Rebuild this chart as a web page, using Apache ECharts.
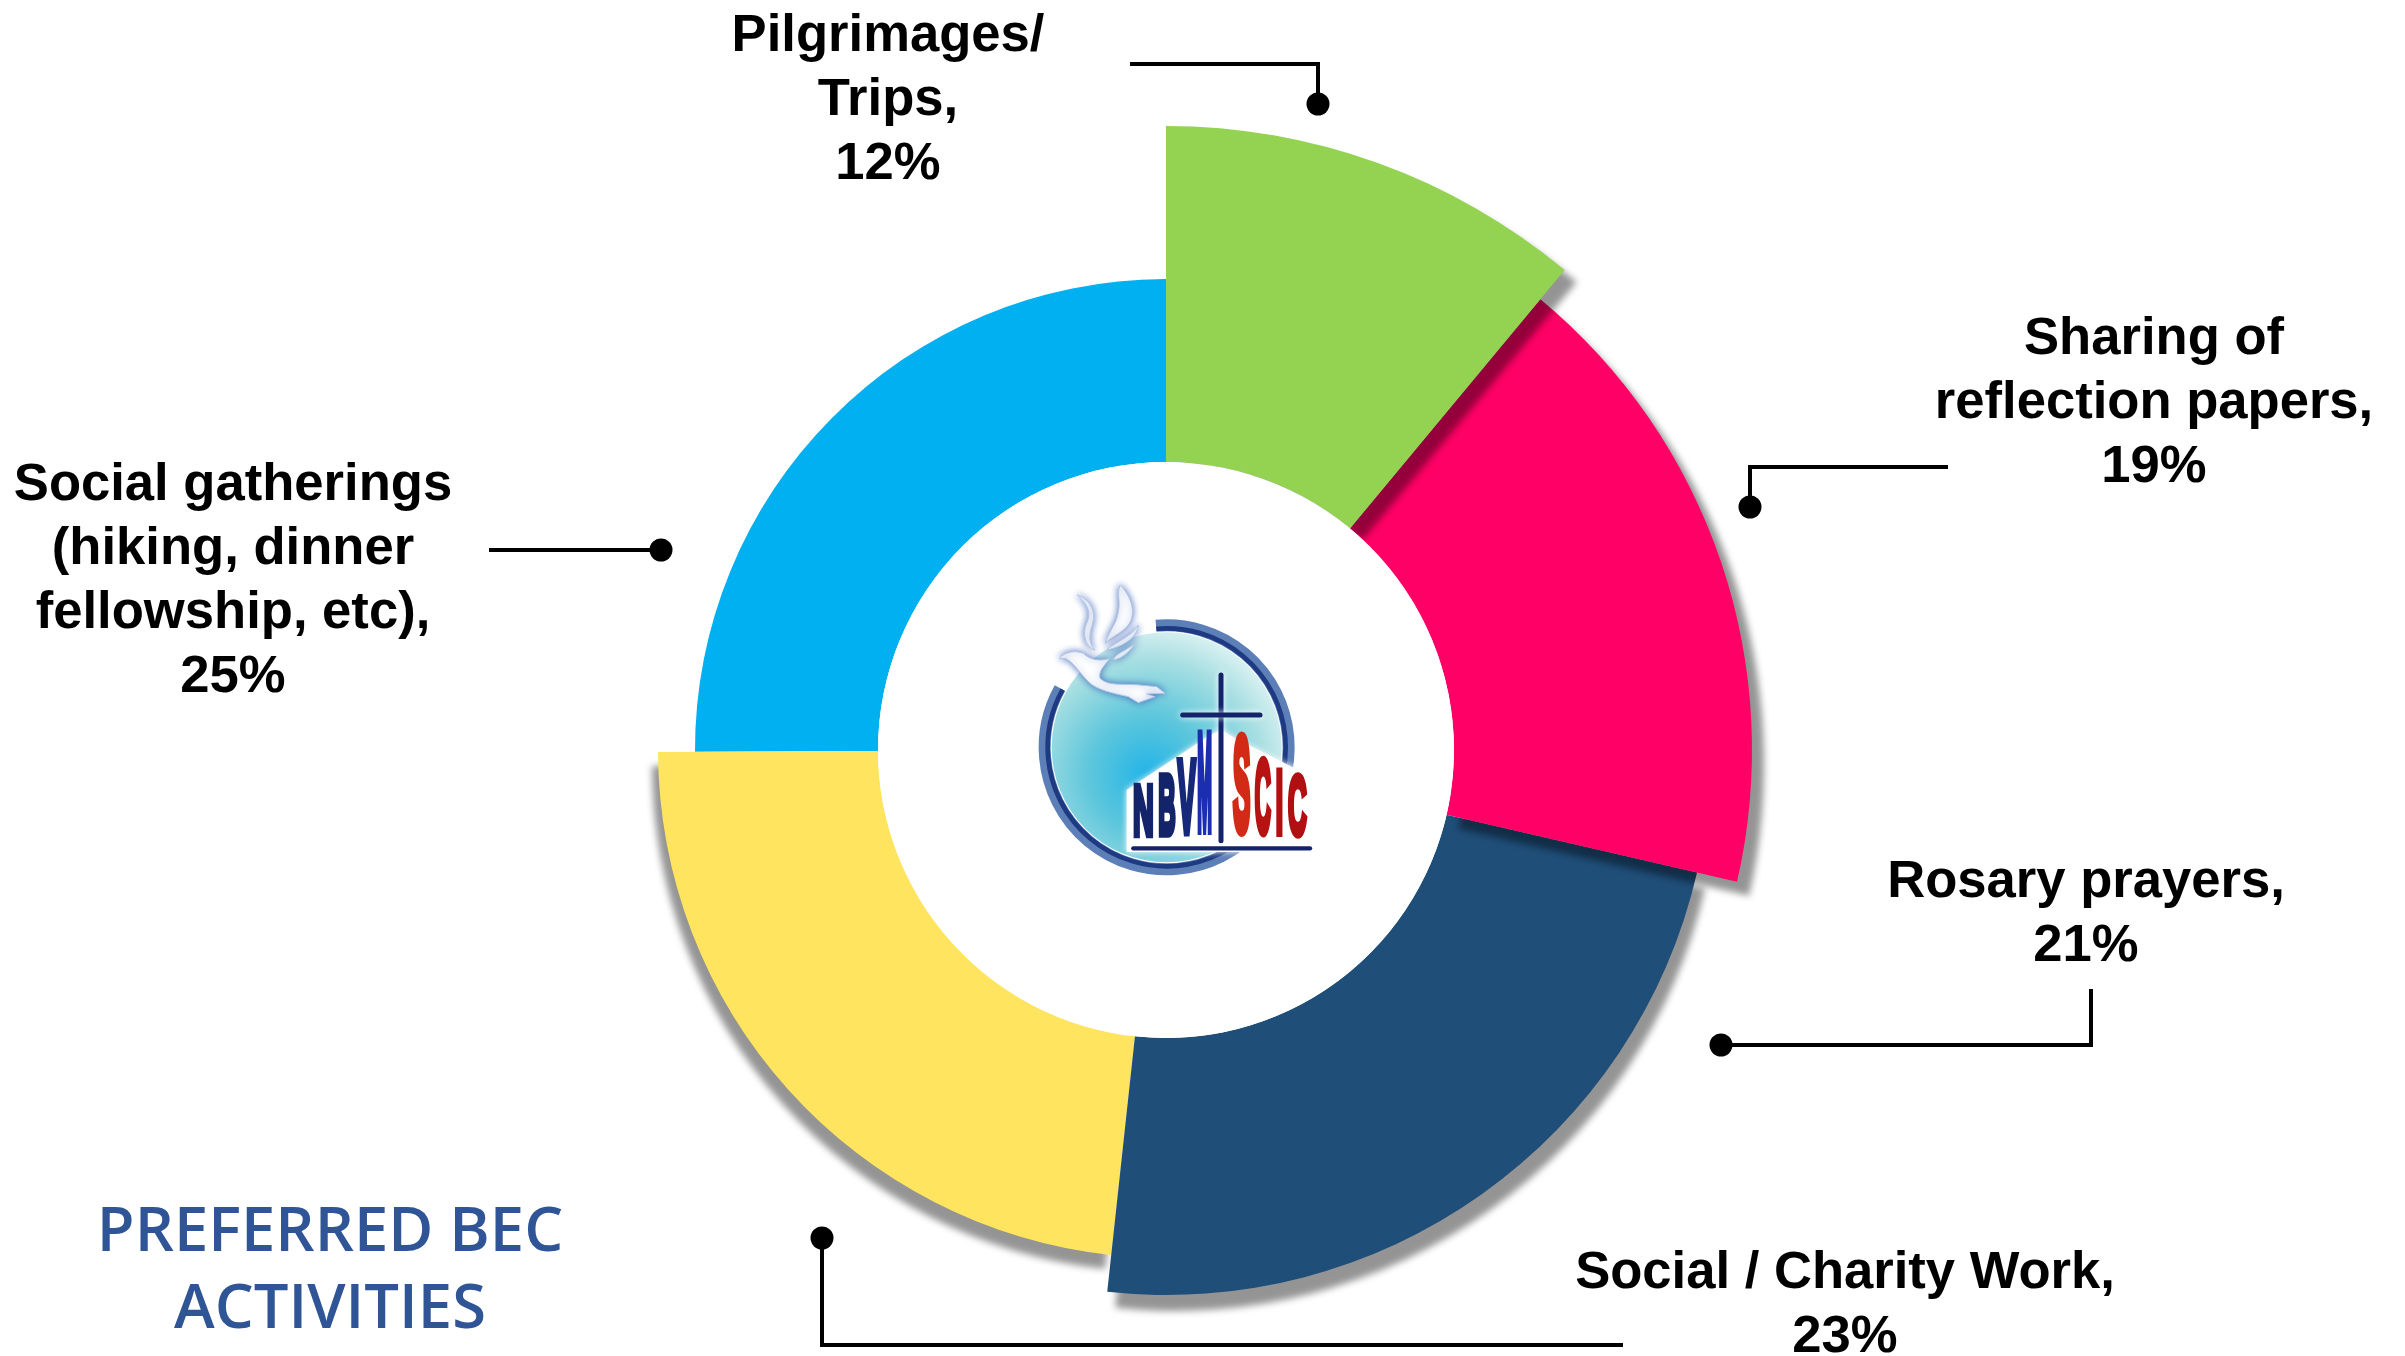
<!DOCTYPE html>
<html>
<head>
<meta charset="utf-8">
<style>html,body{margin:0;padding:0;background:#fff}#c{width:2405px;height:1356px}</style>
<script src="https://cdn.jsdelivr.net/npm/echarts@6/dist/echarts.min.js"></script>
</head>
<body>
<div id="c"></div>
<script>
// ---------- data ----------
const categories = [
  ['Pilgrimages/', 'Trips,'],
  ['Sharing of', 'reflection papers,'],
  ['Rosary prayers,'],
  ['Social / Charity Work,'],
  ['Social gatherings', '(hiking, dinner', 'fellowship, etc),']
];
const labelPercents = [12, 19, 21, 23, 25];
// share of the full turn each slice really occupies in the picture
const drawnShares = [11.03, 17.58, 23.11, 23.22, 25.06];
const titleLines = ['PREFERRED BEC', 'ACTIVITIES'];

// ---------- styling and layout ----------
const sliceColors = ['#93D351', '#FF0066', '#1F4E79', '#FFE55F', '#00B0F0'];
const outerRadii = [624, 586, 545, 508, 471];
const shadowOffsets = [[12, 12], [12, 14], [8, 16], [-6, 14], null];
const CX = 1166, CY = 750, HOLE = 288;
const labelAnchors = [[888, 36], [2154, 339], [2086, 882], [1845, 1273], [233, 485]];
const leaderPaths = [
  [[1130, 64], [1318, 64], [1318, 104]],
  [[1948, 467], [1750, 467], [1750, 507]],
  [[1721, 1045], [2091, 1045], [2091, 989]],
  [[822, 1238], [822, 1345], [1623, 1345]],
  [[489, 550], [661, 550]]
];
const leaderDots = [[1318, 104], [1750, 507], [1721, 1045], [822, 1238], [661, 550]];

const chart = echarts.init(document.getElementById('c'), null, {renderer: 'canvas'});

let cumulative = 0;
const series = drawnShares.map((share, i) => {
  const startAngle = 90 - cumulative * 3.6;
  cumulative += share;
  const off = shadowOffsets[i];
  return {
    type: 'pie',
    center: [CX, CY],
    radius: [HOLE, outerRadii[i]],
    startAngle,
    clockwise: true,
    silent: true,
    z: 10 - i,
    label: {show: false},
    labelLine: {show: false},
    emphasis: {disabled: true},
    data: [
      {value: share, itemStyle: Object.assign({color: sliceColors[i]},
        off ? {shadowColor: 'rgba(0,0,0,0.42)', shadowBlur: 7, shadowOffsetX: off[0], shadowOffsetY: off[1]} : {})},
      {value: 100 - share, itemStyle: {color: 'transparent'}}
    ]
  };
});

const elements = [];
// white centre
elements.push({type: 'circle', z: 50, silent: true, shape: {cx: CX, cy: CY, r: HOLE}, style: {fill: '#fff'}});

// labels
categories.forEach((lines, i) => {
  elements.push({
    type: 'text', z: 100, x: labelAnchors[i][0], y: labelAnchors[i][1] - 32,
    style: {
      text: lines.concat(labelPercents[i] + '%').join('\n'),
      font: 'bold 52.6px "Liberation Sans", Arial, sans-serif',
      lineHeight: 64.2, align: 'center', verticalAlign: 'top', fill: '#000'
    }
  });
});
// leaders
leaderPaths.forEach(p => elements.push({
  type: 'polyline', z: 100, shape: {points: p},
  style: {stroke: '#000', lineWidth: 4, fill: null, lineJoin: 'miter'}
}));
leaderDots.forEach(d => elements.push({
  type: 'circle', z: 100, shape: {cx: d[0], cy: d[1], r: 11.5}, style: {fill: '#000'}
}));
// title
elements.push({
  type: 'text', z: 100, x: 330, y: 1195,
  style: {
    text: titleLines.join('\n'),
    font: '600 61.5px "Open Sans", sans-serif',
    lineHeight: 77, align: 'center', verticalAlign: 'top', fill: '#2F5597'
  }
});

// logo, drawn in crop units (the group maps them to the page)
const navy = '#14246A';
const letters = [
  ['N', 430, 712, 72, 62, '#14246A'], ['B', 501, 686, 72, 52, '#14246A'], ['V', 560, 644, 67, 54, '#16287A'], ['M', 614, 574, 83, 44, '#1C2EB0'],
  ['S', 725, 582, 67, 52, '#D22A16'], ['C', 788, 644, 72, 48, '#B51412'], ['I', 838, 672, 28, 22, '#AE1010'], ['C', 892, 684, 72, 56, '#B01012']
];
const base = 866;
const letterEls = letters.map(l => ({
  type: 'text', z: 100,
  x: l[1], y: (l[2] + base) / 2 + 6,
  scaleX: l[4] / l[3], scaleY: (base - l[2]) / 72,
  style: {
    text: l[0], font: 'bold 100px "Liberation Sans", Arial, sans-serif',
    align: 'center', verticalAlign: 'middle',
    fill: l[5], stroke: l[5], lineWidth: 9
  }
}));
const doveStyle = {shadowColor: 'rgba(60,100,185,0.9)', shadowBlur: 7, fill: '#fff', stroke: '#B4C6E6', lineWidth: 3};
const doveParts = [
  'M178,325 C195,305 225,300 250,310 C270,330 300,335 330,325 C310,350 295,365 300,385 C325,410 370,400 420,405 L470,410 L495,430 L440,432 L465,440 L415,458 L385,440 C340,430 290,420 265,395 C240,370 220,335 195,325 Z',
  'M232,135 C275,150 290,190 275,230 C268,255 265,280 285,300 C255,290 245,250 262,215 C275,185 260,160 232,135 Z',
  'M360,105 C395,140 410,190 385,225 C365,250 335,260 315,280 C335,230 350,220 355,185 C362,155 350,130 360,105 Z',
  'M415,225 C410,265 370,290 320,300 C345,275 390,265 415,225 Z',
  'M410,275 C385,310 365,325 340,330 C345,310 385,300 410,275 Z'
];
doveParts.forEach((d, i) => echarts.graphic.registerShape('dovePart' + i, echarts.graphic.extendPath(d, {})));

elements.push({
  type: 'group', x: 1000, y: 550, scaleX: 1 / 3, scaleY: 1 / 3, z: 100,
  children: [
    {type: 'circle', z: 100, shape: {cx: 500, cy: 592, r: 345},
      style: {fill: new echarts.graphic.RadialGradient(0.42, 0.62, 0.72, [
        {offset: 0, color: '#22B4E8'}, {offset: 0.35, color: '#5CC6DC'}, {offset: 0.7, color: '#A8DFE2'}, {offset: 1, color: '#F4FAFA'}
      ])}},
    {type: 'arc', z: 100, shape: {cx: 500, cy: 592, r: 366, startAngle: -95 * Math.PI / 180, endAngle: 209 * Math.PI / 180, clockwise: true},
      style: {stroke: '#5C7FB8', lineWidth: 36, fill: null}},
    {type: 'arc', z: 100, shape: {cx: 500, cy: 592, r: 357, startAngle: -95 * Math.PI / 180, endAngle: 209 * Math.PI / 180, clockwise: true},
      style: {stroke: '#1E3A82', lineWidth: 14, fill: null}},
    {type: 'polygon', z: 100, shape: {points: [[380, 720], [630, 555], [665, 540], [705, 565], [935, 680], [945, 906], [380, 906]]},
      style: {fill: '#fff', shadowColor: '#fff', shadowBlur: 6}},
    {type: 'line', z: 100, shape: {x1: 663, y1: 375, x2: 663, y2: 872},
      style: {stroke: navy, lineWidth: 15, lineCap: 'round', shadowColor: '#fff', shadowBlur: 6}},
    {type: 'line', z: 100, shape: {x1: 548, y1: 495, x2: 780, y2: 495},
      style: {stroke: navy, lineWidth: 15, lineCap: 'round', shadowColor: '#fff', shadowBlur: 6}},
    {type: 'line', z: 100, shape: {x1: 400, y1: 895, x2: 930, y2: 895},
      style: {stroke: navy, lineWidth: 13, lineCap: 'round'}}
  ].concat(letterEls, doveParts.map((d, i) => ({type: 'dovePart' + i, z: 100, style: doveStyle})))
});

chart.setOption({
  animation: false,
  backgroundColor: '#fff',
  tooltip: {show: false},
  series,
  graphic: {elements}
});
</script>
</body>
</html>
